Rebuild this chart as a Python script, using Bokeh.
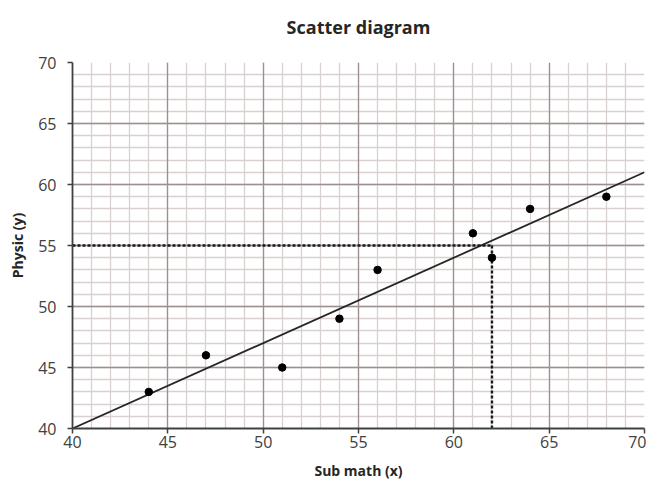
from bokeh.plotting import figure
from bokeh.models import Range1d, FixedTicker, Grid, ColumnDataSource, Title
from bokeh.embed import file_html
from bokeh.resources import INLINE

math_x = [44, 47, 51, 54, 56, 61, 62, 64, 68]
physic_y = [43, 46, 45, 49, 53, 56, 54, 58, 59]
fit_x = [40, 70]
fit_y = [40, 61]
hline_x = [40, 62]
hline_y = [55, 55]
vline_x = [62, 62]
vline_y = [40, 55]
major_ticks = [40, 45, 50, 55, 60, 65, 70]
minor_ticks = list(range(40, 71))

FONT = "Open Sans"

p = figure(width=646, height=482, output_backend="svg", toolbar_location=None,
           title=None,
           x_range=Range1d(40, 70), y_range=Range1d(40, 70),
           min_border_left=72, min_border_right=2, min_border_top=62, min_border_bottom=54)
p.add_layout(Title(text=" ", text_font_size="15.5px", text_font=FONT, standoff=0), "above")
p.add_layout(Title(text="Scatter diagram", align="center", text_font=FONT,
                   text_font_size="18px", text_font_style="bold",
                   text_color="#262626", standoff=0), "above")
p.outline_line_color = None
p.background_fill_color = "white"

p.xgrid.visible = False
p.ygrid.visible = False
for dim in (0, 1):
    p.add_layout(Grid(dimension=dim, ticker=FixedTicker(ticks=minor_ticks),
                      grid_line_color="#d9d0d0", grid_line_width=1.3))
for dim in (0, 1):
    p.add_layout(Grid(dimension=dim, ticker=FixedTicker(ticks=major_ticks),
                      grid_line_color="#9e9090", grid_line_width=1.3))

for ax in (p.xaxis[0], p.yaxis[0]):
    ax.ticker = FixedTicker(ticks=major_ticks)
    ax.minor_tick_line_color = None
    ax.major_tick_in = 0
    ax.major_tick_out = 5
    ax.axis_line_color = "#404040"
    ax.axis_line_width = 1.8
    ax.major_tick_line_color = "#404040"
    ax.major_tick_line_width = 1.5
    ax.major_label_text_font = FONT
    ax.major_label_text_font_size = "16px"
    ax.major_label_text_color = "#404040"
    ax.axis_label_text_font = FONT
    ax.axis_label_text_font_size = "14px"
    ax.axis_label_text_font_style = "bold"
    ax.axis_label_text_color = "#262626"

p.xaxis.axis_label = "Sub math (x)"
p.yaxis.axis_label = "Physic (y)"
p.xaxis.major_label_standoff = 2
p.xaxis.axis_label_standoff = 10
p.yaxis.major_label_standoff = 11
p.yaxis.axis_label_standoff = 8

p.line(fit_x, fit_y, line_color="#262626", line_width=1.8)
p.line(hline_x, hline_y, line_color="#1a1a1a", line_width=2.4, line_dash="3 2")
p.line(vline_x, vline_y, line_color="#1a1a1a", line_width=2.4, line_dash="3 2")
src = ColumnDataSource(dict(x=math_x, y=physic_y))
p.scatter("x", "y", source=src, size=7.5, fill_color="black", line_color="black")

open("out.html", "w").write(file_html(p, INLINE))
